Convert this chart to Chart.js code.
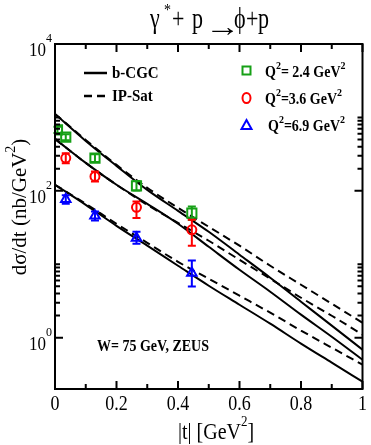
<!DOCTYPE html>
<html>
<head>
<meta charset="utf-8">
<script src="https://cdn.jsdelivr.net/npm/chart.js@4.4.1/dist/chart.umd.min.js"></script>
<style>
html, body { margin: 0; padding: 0; background: #fff; }
</style>
</head>
<body>
<canvas id="canvas" width="371" height="445"></canvas>
<script>
// model curves, |t| grid
var tGrid = [0, 0.1, 0.2, 0.3, 0.4, 0.5, 0.6, 0.7, 0.8, 0.9, 1.0];
var bcgc24 = [1116, 479, 219, 103, 53.4, 27.7, 13.5, 6.55, 3.09, 1.46, 0.687];
var bcgc36 = [510, 240, 121, 66.5, 35.6, 17.3, 8.42, 4.23, 2.06, 1.03, 0.502];
var bcgc69 = [121, 64.5, 33.4, 17.9, 9.54, 5.10, 2.81, 1.55, 0.83, 0.457, 0.252];
var ipsat24 = [1116, 494, 226, 110, 58.7, 32.4, 17.9, 9.54, 5.26, 2.90, 1.60];
var ipsat36 = [510, 240, 121, 64.5, 36.7, 20.9, 11.5, 6.35, 3.50, 1.99, 1.10];
var ipsat69 = [121, 66.5, 35.6, 19.6, 10.8, 6.35, 3.73, 2.19, 1.25, 0.731, 0.43];

// ZEUS data
var tZeus24 = [0.008, 0.035, 0.13, 0.265, 0.445];
var zeus24 = [676, 538, 279, 117, 49.7];
var zeus24Lo = [615, 490, 248, 101, 40];
var zeus24Hi = [745, 592, 314, 136, 61];
var tZeus = [0.035, 0.13, 0.265, 0.445];
var zeus36 = [279, 157, 59.7, 29.5];
var zeus36Lo = [238, 134, 42.5, 17.9];
var zeus36Hi = [326, 184, 71.5, 40.3];
var zeus69 = [76.6, 45.7, 22.7, 7.59];
var zeus69Lo = [66.5, 39.4, 19.0, 4.99];
var zeus69Hi = [86.9, 52.2, 27.8, 11.25];

// axis ticks
var xTicks = [0, 0.2, 0.4, 0.6, 0.8, 1];
var xMinor = [0.1, 0.3, 0.5, 0.7, 0.9];
var yLabelExp = [0, 2, 4];
var yMinor = [2, 3, 4, 5, 6, 7, 8, 9, 10, 200, 300, 400, 500, 600, 700, 800, 900, 1000];

var GREEN = '#16a016', RED = '#ff0000', BLUE = '#0000ff';
var SERIF = '"Liberation Serif", "DejaVu Serif", serif';

function pts(xs, ys) {
	return xs.map(function (x, i) { return { x: x, y: ys[i] }; });
}

function txt(ctx, s, x, y, size, bold, align, sy, sx) {
	ctx.save();
	ctx.font = (bold ? 'bold ' : '') + size + 'px ' + SERIF;
	ctx.textAlign = align || 'left';
	ctx.textBaseline = 'alphabetic';
	ctx.fillStyle = '#000';
	ctx.translate(x, y);
	ctx.scale(sx || 1, sy || 1);
	ctx.fillText(s, 0, 0);
	var w = ctx.measureText(s).width * (sx || 1);
	ctx.restore();
	return w;
}

function qLabel(ctx, x, y, rest) {
	x += txt(ctx, 'Q', x, y, 14, true, 'left', 1.15);
	x += txt(ctx, '2', x, y - 8, 10, true, 'left', 1.1);
	x += txt(ctx, rest, x, y, 14, true, 'left', 1.15);
	txt(ctx, '2', x, y - 8, 10, true, 'left', 1.1);
}

function errBars(ctx, xs, ys, xs2, lo, hi, color) {
	ctx.save();
	ctx.strokeStyle = color;
	ctx.lineWidth = 2;
	xs2.forEach(function (t, i) {
		var px = xs.getPixelForValue(t);
		var a = ys.getPixelForValue(lo[i]), b = ys.getPixelForValue(hi[i]);
		ctx.beginPath();
		ctx.moveTo(px, a); ctx.lineTo(px, b);
		ctx.moveTo(px - 4, a); ctx.lineTo(px + 4, a);
		ctx.moveTo(px - 4, b); ctx.lineTo(px + 4, b);
		ctx.stroke();
	});
	ctx.restore();
}

var decor = {
	id: 'decor',
	afterDatasetsDraw: function (chart) {
		var ctx = chart.ctx, a = chart.chartArea;
		var xs = chart.scales.x, ys = chart.scales.y;

		errBars(ctx, xs, ys, tZeus24, zeus24Lo, zeus24Hi, GREEN);
		errBars(ctx, xs, ys, tZeus, zeus36Lo, zeus36Hi, RED);
		errBars(ctx, xs, ys, tZeus, zeus69Lo, zeus69Hi, BLUE);

		// frame
		ctx.save();
		ctx.strokeStyle = '#000';
		ctx.lineWidth = 2;
		ctx.strokeRect(a.left, a.top, a.right - a.left, a.bottom - a.top);

		// ticks, drawn inward on all four sides
		ctx.beginPath();
		xTicks.concat(xMinor).forEach(function (v) {
			var px = xs.getPixelForValue(v);
			var len = xMinor.indexOf(v) >= 0 ? 5 : 8;
			ctx.moveTo(px, a.bottom); ctx.lineTo(px, a.bottom - len);
			ctx.moveTo(px, a.top); ctx.lineTo(px, a.top + len);
		});
		yLabelExp.forEach(function (e) {
			var py = ys.getPixelForValue(Math.pow(10, e));
			ctx.moveTo(a.left, py); ctx.lineTo(a.left + 8, py);
			ctx.moveTo(a.right, py); ctx.lineTo(a.right - 8, py);
		});
		yMinor.forEach(function (v) {
			var py = ys.getPixelForValue(v);
			ctx.moveTo(a.left, py); ctx.lineTo(a.left + 5, py);
			ctx.moveTo(a.right, py); ctx.lineTo(a.right - 5, py);
		});
		ctx.stroke();
		ctx.restore();

		// tick labels
		xTicks.forEach(function (v) {
			txt(ctx, String(v), xs.getPixelForValue(v), a.bottom + 21, 18, false, 'center', 1.15);
		});
		yLabelExp.forEach(function (e) {
			var py = ys.getPixelForValue(Math.pow(10, e));
			txt(ctx, '10', 46, py + 12, 17, false, 'right', 1.1);
			txt(ctx, String(e), 46, py - 2, 12, false, 'left', 1.1);
		});

		// axis titles
		var x0 = 178;
		x0 += txt(ctx, '|t| [GeV', x0, 439, 20, false, 'left', 1.15);
		x0 += txt(ctx, '2', x0, 426, 13, false, 'left', 1.1);
		txt(ctx, ']', x0, 439, 20, false, 'left', 1.15);

		ctx.save();
		ctx.translate(26, 207);
		ctx.rotate(-Math.PI / 2);
		ctx.font = '21px ' + SERIF;
		var w1 = ctx.measureText('dσ/dt (nb/GeV').width;
		ctx.font = '14px ' + SERIF;
		var w2 = ctx.measureText('2').width;
		ctx.font = '21px ' + SERIF;
		var w3 = ctx.measureText(')').width;
		var s = -(w1 + w2 + w3) / 2;
		txt(ctx, 'dσ/dt (nb/GeV', s, 0, 21, false, 'left', 1);
		txt(ctx, '2', s + w1, -11, 14, false, 'left', 1);
		txt(ctx, ')', s + w1 + w2, 0, 21, false, 'left', 1);
		ctx.restore();

		// title
		txt(ctx, 'γ', 150, 28, 22, false, 'left', 1.3);
		txt(ctx, '*', 164, 15, 14, false, 'left', 1.2);
		txt(ctx, '+', 172, 28, 22, false, 'left', 1.3);
		txt(ctx, 'p', 192, 28, 22, false, 'left', 1.3);
		txt(ctx, '→', 205, 36, 26, true, 'left', 1.1, 1.35);
		txt(ctx, 'ϕ', 234, 28, 22, false, 'left', 1.3);
		txt(ctx, '+', 246, 28, 22, false, 'left', 1.3);
		txt(ctx, 'p', 258, 28, 22, false, 'left', 1.3);

		// model legend
		ctx.save();
		ctx.strokeStyle = '#000';
		ctx.lineWidth = 2.5;
		ctx.beginPath(); ctx.moveTo(84, 73); ctx.lineTo(107, 73); ctx.stroke();
		ctx.setLineDash([8, 5]);
		ctx.beginPath(); ctx.moveTo(84, 96); ctx.lineTo(107, 96); ctx.stroke();
		ctx.restore();
		txt(ctx, 'b-CGC', 112, 78, 15, true, 'left', 1.15);
		txt(ctx, 'IP-Sat', 112, 101, 15, true, 'left', 1.15);

		// data legend
		ctx.save();
		ctx.lineWidth = 2;
		ctx.strokeStyle = GREEN;
		ctx.strokeRect(242.5, 66.5, 8, 8);
		ctx.strokeStyle = RED;
		ctx.beginPath(); ctx.ellipse(246.5, 98, 4, 5, 0, 0, Math.PI * 2); ctx.stroke();
		ctx.strokeStyle = BLUE;
		ctx.beginPath(); ctx.moveTo(246.5, 120); ctx.lineTo(251.5, 129); ctx.lineTo(241.5, 129); ctx.closePath(); ctx.stroke();
		ctx.restore();
		qLabel(ctx, 265, 77, '= 2.4 GeV');
		qLabel(ctx, 265, 104, '=3.6 GeV');
		qLabel(ctx, 268, 131, '=6.9 GeV');

		txt(ctx, 'W= 75 GeV, ZEUS', 97, 351, 14, true, 'left', 1.15);
	}
};

function curve(ys, dashed) {
	return {
		data: pts(tGrid, ys),
		borderColor: '#000',
		borderWidth: 2,
		borderDash: dashed ? [8, 5] : [],
		pointRadius: 0,
		fill: false,
		cubicInterpolationMode: 'monotone'
	};
}

function points(xs, ys, color, style, r) {
	return {
		data: pts(xs, ys),
		showLine: false,
		pointStyle: style,
		pointRadius: r,
		pointBorderWidth: 2,
		pointBorderColor: color,
		pointBackgroundColor: 'rgba(0,0,0,0)',
		borderColor: color
	};
}

var ctx = document.getElementById('canvas').getContext('2d');
window.myChart = new Chart(ctx, {
	type: 'line',
	data: {
		datasets: [
			points(tZeus24, zeus24, GREEN, 'rect', 6.5),
			points(tZeus, zeus36, RED, 'circle', 4.5),
			points(tZeus, zeus69, BLUE, 'triangle', 5.5),
			curve(bcgc24, false),
			curve(bcgc36, false),
			curve(bcgc69, false),
			curve(ipsat24, true),
			curve(ipsat36, true),
			curve(ipsat69, true)
		]
	},
	options: {
		responsive: false,
		devicePixelRatio: 1,
		animation: false,
		layout: { padding: { top: 44, right: 6, bottom: 0, left: 0 } },
		plugins: {
			legend: { display: false },
			title: { display: false },
			tooltip: { enabled: false }
		},
		scales: {
			x: {
				type: 'linear',
				min: 0,
				max: 1,
				grid: { display: false, drawTicks: false },
				border: { display: false },
				ticks: { display: false },
				afterFit: function (s) { s.height = 56; }
			},
			y: {
				type: 'logarithmic',
				min: 0.2,
				max: 10000,
				grid: { display: false, drawTicks: false },
				border: { display: false },
				ticks: { display: false },
				afterFit: function (s) { s.width = 55; }
			}
		}
	},
	plugins: [decor]
});
</script>
</body>
</html>
